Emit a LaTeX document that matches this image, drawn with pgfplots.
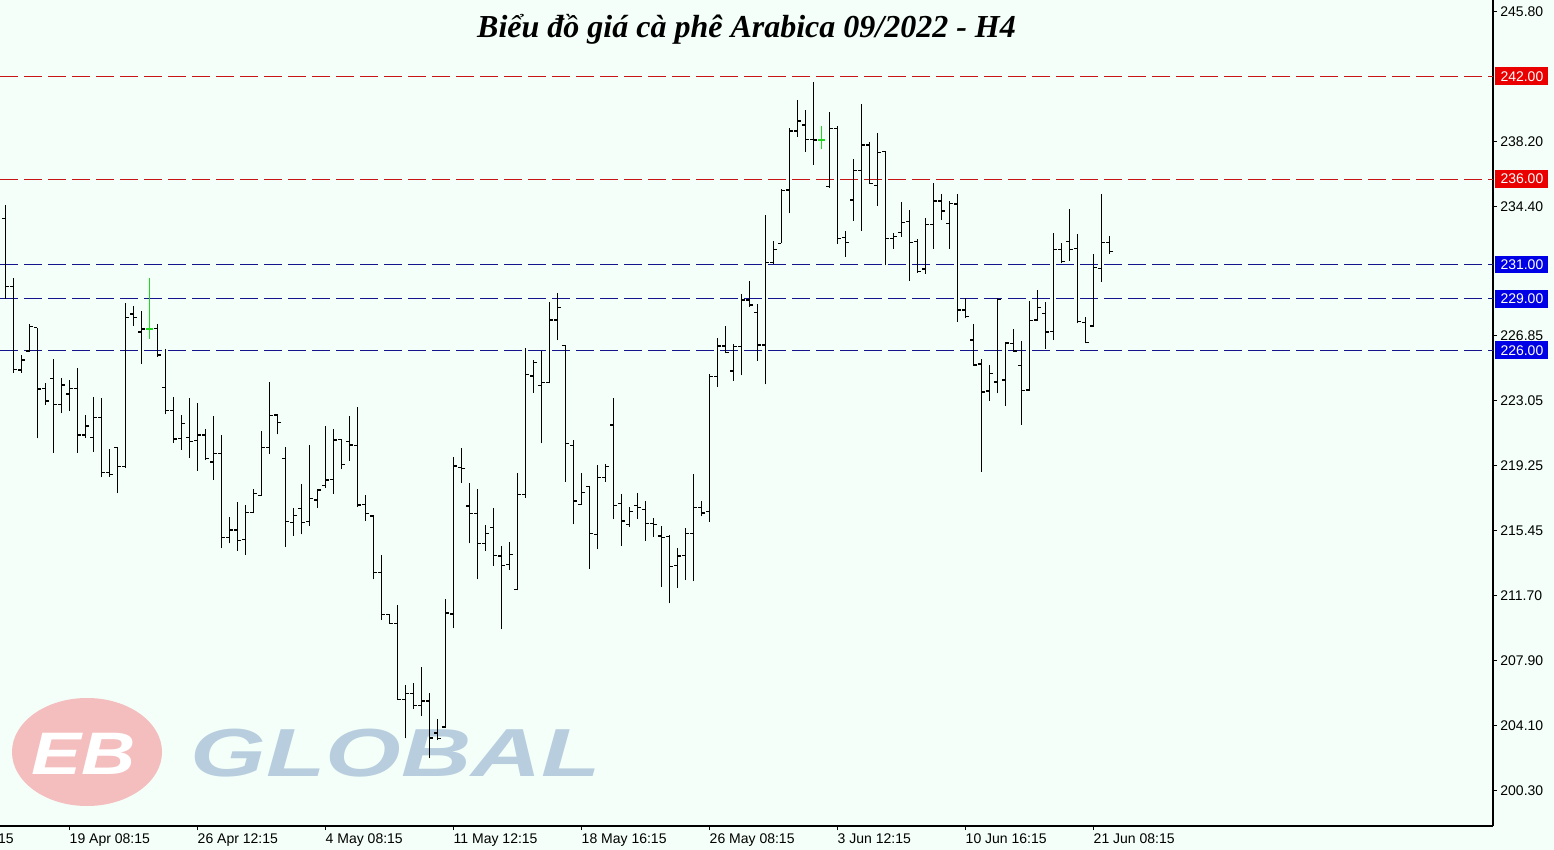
\documentclass[border=0pt]{standalone}
\usepackage{fontspec}
\setmainfont{Liberation Sans}
\newfontfamily\titlefont{Liberation Serif}
\usepackage{pgfplots}
\usepackage{pgfplotstable}
\pgfplotsset{compat=1.18}

\definecolor{bg}{RGB}{243,255,248}
\definecolor{lvlred}{RGB}{200,20,20}
\definecolor{lvlblue}{RGB}{20,20,140}
\definecolor{boxred}{RGB}{235,0,0}
\definecolor{boxblue}{RGB}{0,0,230}
\definecolor{doji}{RGB}{30,215,30}
\definecolor{wmpink}{RGB}{244,190,190}
\definecolor{wmblue}{RGB}{184,206,222}
\newcommand\lab{\fontsize{7}{8}\selectfont}

% open / close ticks of the bars
\pgfdeclareplotmark{otick}{\pgfpathmoveto{\pgfqpoint{-1.6pt}{0pt}}\pgfpathlineto{\pgfqpoint{0pt}{0pt}}\pgfusepathqstroke}
\pgfdeclareplotmark{ctick}{\pgfpathmoveto{\pgfqpoint{0pt}{0pt}}\pgfpathlineto{\pgfqpoint{1.6pt}{0pt}}\pgfusepathqstroke}
\pgfdeclareplotmark{dtick}{\pgfpathmoveto{\pgfqpoint{-1.6pt}{0pt}}\pgfpathlineto{\pgfqpoint{1.6pt}{0pt}}\pgfusepathqstroke}

% H4 bars: index, open, high, low, close
\pgfplotstableread{
i O H L C
0 233.71 234.49 229.00 229.72
1 229.72 230.20 224.66 224.89
2 224.85 225.73 224.66 225.43
3 225.96 227.52 225.92 227.38
4 227.32 227.32 220.86 223.74
5 223.78 224.07 222.81 223.04
6 224.36 225.49 220.02 222.85
7 222.85 224.36 222.32 223.97
8 223.45 224.27 222.48 223.78
9 223.78 224.97 220.02 221.05
10 221.05 222.22 220.90 221.58
11 220.92 223.29 220.08 222.09
12 222.09 223.19 218.58 218.87
13 218.87 220.24 218.62 218.76
14 220.33 220.33 217.65 219.21
15 219.21 228.74 219.15 227.93
16 228.12 228.59 227.44 227.91
17 227.07 228.30 225.20 227.24
19 227.28 227.54 225.63 225.73
20 223.84 226.06 222.26 222.49
21 222.49 223.27 220.61 220.82
22 220.86 222.22 220.18 221.74
23 220.92 223.21 219.73 220.68
24 220.74 222.90 218.97 221.05
25 221.05 221.40 219.59 219.69
26 219.48 222.16 218.43 219.98
27 219.98 221.05 214.44 215.08
28 215.08 216.27 214.73 215.51
29 215.51 217.14 214.30 214.88
30 214.96 216.95 214.07 216.54
31 216.54 217.90 216.48 217.65
32 217.53 221.29 217.51 220.33
33 220.33 224.15 219.96 222.20
34 222.22 222.28 221.09 221.79
35 219.69 220.33 214.53 215.99
36 215.95 216.77 215.18 216.36
37 216.77 218.17 215.25 215.95
38 215.99 220.47 215.76 217.36
39 217.26 217.90 216.81 217.84
40 218.10 221.58 217.98 218.43
41 218.47 221.39 217.63 220.76
42 220.80 220.80 219.05 219.34
43 220.66 222.16 219.56 220.47
44 220.43 222.67 216.87 216.97
45 217.01 217.53 216.05 216.48
46 216.32 216.36 212.63 213.02
47 213.02 214.05 210.25 210.56
48 210.56 210.62 210.06 210.06
49 210.06 211.11 205.58 205.62
50 205.62 206.44 203.34 205.97
51 205.97 206.57 205.05 205.27
52 205.27 207.50 204.65 205.52
53 205.52 205.99 202.19 203.36
54 203.65 204.47 203.25 203.31
55 204.01 211.48 203.95 210.66
56 210.60 219.79 209.76 219.24
57 219.17 220.31 218.27 219.11
58 216.91 218.27 214.73 216.48
59 216.48 217.90 212.63 214.73
60 214.73 215.80 214.30 215.31
61 215.66 216.79 213.42 214.03
62 213.99 214.59 209.71 213.44
63 213.50 214.81 213.17 214.09
64 212.04 218.85 212.00 217.59
65 217.59 226.12 217.40 224.60
66 224.50 225.43 223.53 225.28
67 223.95 225.96 220.57 224.13
68 224.13 228.84 224.07 227.77
69 227.77 229.37 226.60 228.51
70 226.29 226.31 218.33 220.57
71 220.43 220.76 215.84 217.20
72 217.01 218.85 216.97 217.69
73 218.04 218.10 213.25 215.31
74 215.25 219.30 214.38 218.58
75 218.58 219.34 218.33 219.20
76 221.64 223.23 216.13 216.95
77 217.06 217.61 214.59 216.03
78 215.84 216.83 215.70 216.58
79 216.95 217.69 216.15 216.81
80 216.71 217.22 214.88 215.90
81 215.90 216.19 215.12 215.84
82 215.16 215.74 212.20 215.08
83 215.12 215.22 211.22 213.37
84 213.42 214.47 212.12 213.99
85 214.00 215.60 212.60 215.30
86 215.30 218.80 212.50 216.80
87 216.80 217.20 216.30 216.50
88 216.60 224.60 216.00 224.46
89 224.46 226.74 223.88 226.25
90 226.25 227.42 225.82 225.88
91 224.79 226.37 224.23 226.21
92 226.21 229.29 224.54 228.94
93 228.94 230.07 228.55 228.64
94 228.22 228.70 225.39 226.31
95 226.31 233.90 224.01 231.14
96 231.14 232.38 231.02 231.90
97 232.24 235.42 232.24 235.32
98 235.36 238.96 234.00 238.81
99 238.81 240.62 238.48 239.39
100 239.16 240.03 237.60 238.32
101 238.32 241.67 236.82 238.28
103 235.55 239.90 235.50 238.96
104 238.96 239.10 232.21 232.54
105 232.58 232.97 231.47 232.30
106 234.78 237.17 233.55 236.49
107 236.49 240.38 232.97 237.99
108 237.99 238.14 235.71 235.75
109 235.61 238.67 234.43 237.56
110 237.60 237.66 230.96 232.54
111 232.54 232.83 231.92 232.64
112 232.87 234.66 232.64 233.47
113 233.51 234.19 230.07 232.30
114 232.34 232.48 230.53 230.59
115 230.75 233.75 230.46 233.36
116 233.36 235.75 231.93 234.72
117 234.72 235.13 233.61 234.13
118 233.41 234.72 231.92 234.58
119 234.54 235.13 227.67 228.35
120 228.35 229.04 227.87 227.99
121 226.60 227.54 225.14 225.14
122 225.20 225.47 218.91 223.57
123 223.62 225.14 223.06 224.66
124 224.15 229.04 223.49 228.98
125 224.27 226.47 222.77 226.43
126 226.41 227.24 225.92 225.96
127 225.12 226.54 221.64 223.64
128 223.68 228.88 223.64 227.73
129 227.77 229.52 227.73 228.51
130 228.16 228.82 226.08 227.07
131 227.09 232.87 226.60 231.90
132 231.90 232.29 231.08 231.18
133 232.34 234.23 231.24 231.90
134 231.95 232.79 227.57 227.67
135 227.63 227.96 226.41 226.45
136 227.42 231.62 227.38 230.84
137 230.79 235.13 230.01 232.30
138 232.30 232.67 231.62 231.76
}\ohlc

% bars with open = close (drawn green)
\pgfplotstableread{
i O H L C
18 227.24 230.20 226.66 227.24
102 238.28 239.10 237.75 238.28
}\dojis

\begin{document}
\begin{tikzpicture}
\fill[bg] (0,0) rectangle (777pt,-425pt);

% watermark
\fill[wmpink] (43.5pt,-376pt) ellipse [x radius=37.5pt, y radius=27pt];
\node[text=white, inner sep=0pt, font=\bfseries\itshape\fontsize{30}{30}\selectfont, xscale=1.25] at (42pt,-377pt) {EB};
\node[anchor=base west, inner sep=0pt, text=wmblue, font=\bfseries\itshape\fontsize{34}{34}\selectfont, xscale=1.43] at (95pt,-388pt) {GLOBAL};

\begin{axis}[
  at={(0pt,0pt)}, anchor=north west,
  scale only axis, width=746.5pt, height=413pt,
  xmin=-0.667, xmax=185.96, ymin=198.222, ymax=246.455,
  axis x line*=bottom, axis y line*=right,
  axis line style={black, line width=0.6pt},
  tick style={black, line width=0.5pt},
  tick align=outside, major tick length=2pt,
  xtick={8,24,40,56,72,88,104,120,136},
  xticklabels={19 Apr 08:15,26 Apr 12:15,4 May 08:15,11 May 12:15,18 May 16:15,26 May 08:15,3 Jun 12:15,10 Jun 16:15,21 Jun 08:15},
  xticklabel style={anchor=north west, inner sep=0pt, yshift=-1.5pt, font=\lab},
  ytick={245.80,238.20,234.40,226.85,223.05,219.25,215.45,211.70,207.90,204.10,200.30},
  yticklabels={245.80,238.20,234.40,226.85,223.05,219.25,215.45,211.70,207.90,204.10,200.30},
  yticklabel style={anchor=west, inner sep=0pt, xshift=1.5pt, font=\lab},
  clip=false,
]
% support and resistance levels
\addplot[lvlred, line width=0.5pt, dash pattern=on 9pt off 3pt] coordinates {(-0.667,242) (185.96,242)};
\addplot[lvlred, line width=0.5pt, dash pattern=on 9pt off 3pt] coordinates {(-0.667,236) (185.96,236)};
\addplot[lvlblue, line width=0.5pt, dash pattern=on 9pt off 3pt] coordinates {(-0.667,231) (185.96,231)};
\addplot[lvlblue, line width=0.5pt, dash pattern=on 9pt off 3pt] coordinates {(-0.667,229) (185.96,229)};
\addplot[lvlblue, line width=0.5pt, dash pattern=on 9pt off 3pt] coordinates {(-0.667,226) (185.96,226)};

% high-low range
\addplot[draw=none, mark=none, error bars/.cd, y dir=plus, y explicit, error mark=none,
  error bar style={draw=black, line width=0.62pt, solid}]
  table[x=i, y=L, y error expr=\thisrow{H}-\thisrow{L}] {\ohlc};
% open and close ticks
\addplot[black, only marks, mark=otick, mark options={solid, line width=0.62pt}] table[x=i, y=O] {\ohlc};
\addplot[black, only marks, mark=ctick, mark options={solid, line width=0.62pt}] table[x=i, y=C] {\ohlc};

% doji bars
\addplot[doji, line width=0.8pt] coordinates {(18,226.66) (18,230.20)};
\addplot[doji, line width=0.8pt] coordinates {(102,237.75) (102,239.10)};
\addplot[doji, only marks, mark=dtick, mark options={solid, line width=0.7pt}] table[x=i, y=O] {\dojis};

% level price boxes
\node[fill=boxred, text=white, anchor=west, inner sep=0pt, minimum width=26.5pt, minimum height=8.8pt, font=\lab, xshift=1pt] at (axis cs:185.96,242) {242.00};
\node[fill=boxred, text=white, anchor=west, inner sep=0pt, minimum width=26.5pt, minimum height=8.8pt, font=\lab, xshift=1pt] at (axis cs:185.96,236) {236.00};
\node[fill=boxblue, text=white, anchor=west, inner sep=0pt, minimum width=26.5pt, minimum height=8.8pt, font=\lab, xshift=1pt] at (axis cs:185.96,231) {231.00};
\node[fill=boxblue, text=white, anchor=west, inner sep=0pt, minimum width=26.5pt, minimum height=8.8pt, font=\lab, xshift=1pt] at (axis cs:185.96,229) {229.00};
\node[fill=boxblue, text=white, anchor=west, inner sep=0pt, minimum width=26.5pt, minimum height=8.8pt, font=\lab, xshift=1pt] at (axis cs:185.96,226) {226.00};
\end{axis}

\node[anchor=north east, inner sep=0pt, font=\lab] at (7pt,-416.5pt) {15};
\node[anchor=base, inner sep=0pt, font=\titlefont\bfseries\itshape\fontsize{16}{16}\selectfont] at (373.25pt,-19pt) {Biểu đồ giá cà phê Arabica 09/2022 - H4};

\pgfresetboundingbox
\useasboundingbox (0,0) rectangle (777pt,-425pt);
\end{tikzpicture}
\end{document}
